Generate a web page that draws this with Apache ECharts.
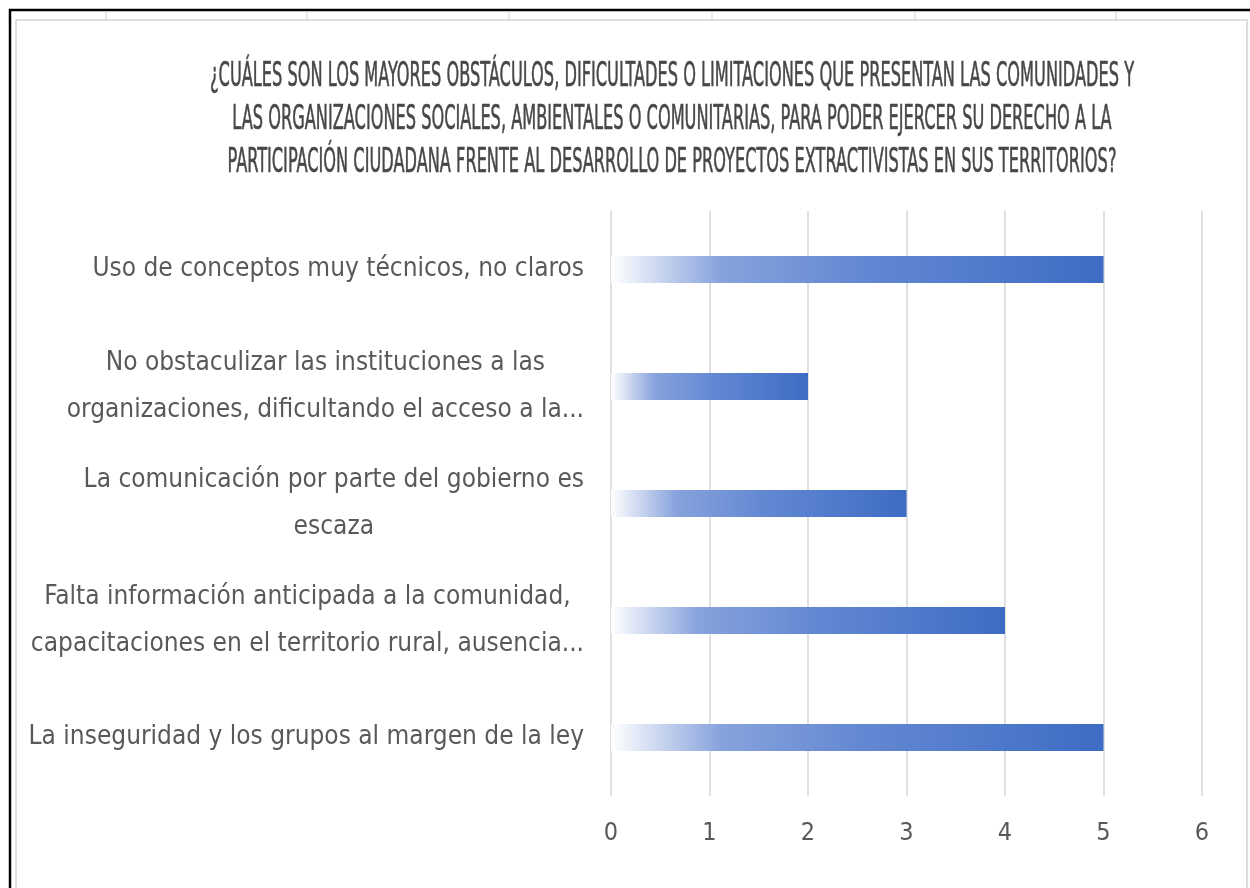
<!DOCTYPE html>
<html>
<head>
<meta charset="utf-8">
<script src="https://cdn.jsdelivr.net/npm/echarts@6/dist/echarts.min.js"></script>
<style>html,body{margin:0;padding:0;background:#fff}#c{width:1250px;height:888px}</style>
</head>
<body>
<div id="c"></div>
<script>
var titleText = "¿CUÁLES SON LOS MAYORES OBSTÁCULOS, DIFICULTADES O LIMITACIONES QUE PRESENTAN LAS COMUNIDADES Y\nLAS ORGANIZACIONES SOCIALES, AMBIENTALES O COMUNITARIAS, PARA PODER EJERCER SU DERECHO A LA\nPARTICIPACIÓN CIUDADANA FRENTE AL DESARROLLO DE PROYECTOS EXTRACTIVISTAS EN SUS TERRITORIOS?";
var categories = [
  "Uso de conceptos muy técnicos, no claros",
  "No obstaculizar las instituciones a las\norganizaciones, dificultando el acceso a la...",
  "La comunicación por parte del gobierno es\nescaza",
  "Falta información anticipada a la comunidad,\ncapacitaciones en el territorio rural, ausencia...",
  "La inseguridad y los grupos al margen de la ley"
];
var values = [5, 2, 3, 4, 5];
var axisMin = 0, axisMax = 6, axisStep = 1;

var FONT = "'Liberation Sans Narrow', 'DejaVu Sans Condensed', 'Roboto Condensed', sans-serif";
var chart = echarts.init(document.getElementById('c'));
var topTicks = [106, 307, 509, 712, 915, 1116];
var TSY = 1.7;
var graphics = [
  {type:'rect', shape:{x:16, y:20, width:1231, height:880}, style:{fill:'none', stroke:'#d4d4d4', lineWidth:1.5}, z:-1},
  {type:'line', shape:{x1:9, y1:10, x2:1250, y2:10}, style:{stroke:'#000', lineWidth:2.5}},
  {type:'line', shape:{x1:10, y1:9, x2:10, y2:888}, style:{stroke:'#000', lineWidth:2.5}},
  {type:'text', x:672, y:56, scaleX:0.9, scaleY:TSY,
   style:{text:titleText, align:'center', verticalAlign:'top', fontFamily:FONT, fontSize:20, fontWeight:'normal',
          fill:'#474747', stroke:'#474747', lineWidth:0.35, lineHeight:43/TSY}}
];
topTicks.forEach(function(x){
  graphics.push({type:'line', shape:{x1:x, y1:11, x2:x, y2:20}, style:{stroke:'#cfcfcf', lineWidth:1}});
});
chart.setOption({
  backgroundColor:'#fff',
  animation:false,
  graphic: graphics,
  grid:{left:611, right:48, top:211, bottom:92, containLabel:false},
  xAxis:{
    type:'value', min:axisMin, max:axisMax, interval:axisStep,
    axisLine:{show:false}, axisTick:{show:false},
    splitLine:{show:true, lineStyle:{color:'#d6d6d6', width:1.5}},
    axisLabel:{fontFamily:FONT, fontSize:25, color:'#595959', margin:25}
  },
  yAxis:{
    type:'category', data:categories, inverse:true,
    axisLine:{show:false}, axisTick:{show:false},
    axisLabel:{
      fontFamily:FONT, fontSize:26, color:'#595959', margin:27, align:'right', lineHeight:47,
      formatter:function(v){ return v.split('\n').map(function(l){return '{c|'+l+'}';}).join('\n'); },
      rich:{c:{align:'center', fontFamily:FONT, fontSize:26, color:'#595959', lineHeight:47}}
    }
  },
  series:[{
    type:'bar', data:values, barWidth:27,
    itemStyle:{
      color:new echarts.graphic.LinearGradient(0,0,1,0,[
        {offset:0, color:'rgba(255,255,255,1)'},
        {offset:0.22, color:'#88a3dd'},
        {offset:0.5, color:'#6489d3'},
        {offset:1, color:'#3e6cc3'}
      ])
    }
  }]
});
</script>
</body>
</html>
